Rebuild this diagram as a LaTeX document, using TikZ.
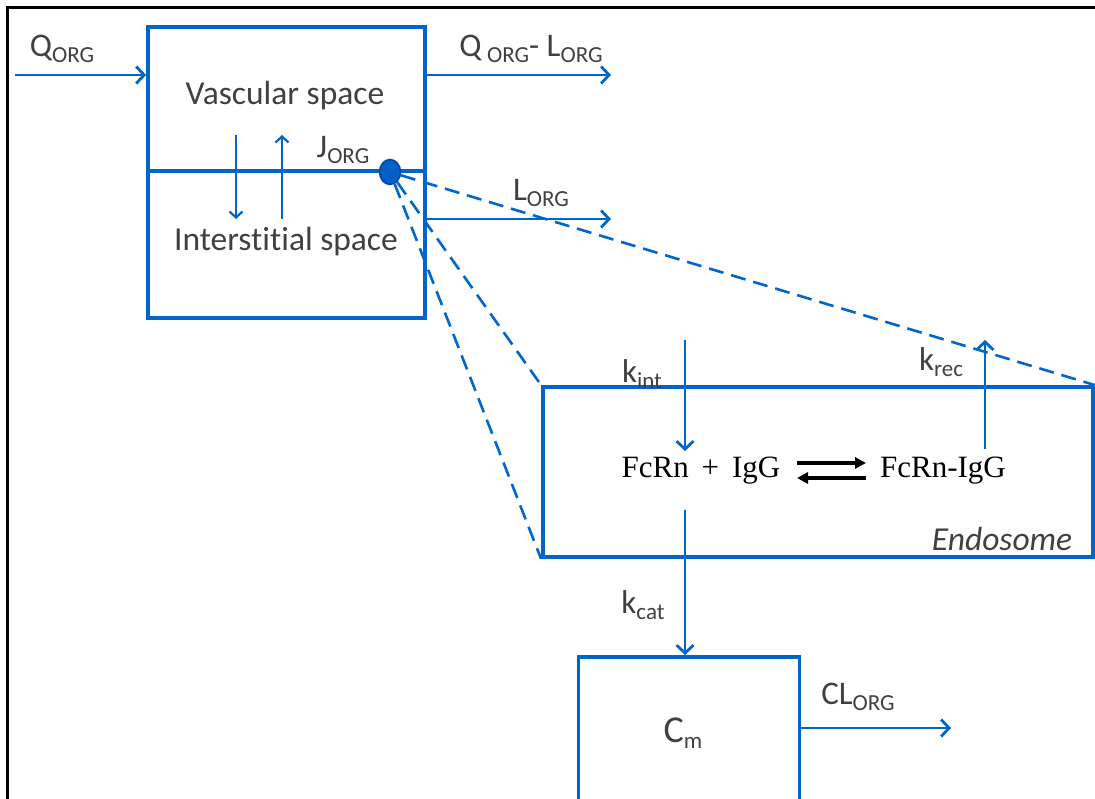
\documentclass[tikz,border=0pt]{standalone}
\usepackage{fontspec}
\setmainfont{Carlito}[Ligatures=NoCommon]
\newfontfamily\rxnfont{Liberation Serif}
\usetikzlibrary{arrows.meta,shapes.geometric}
\definecolor{flowblue}{RGB}{0,102,204}
\definecolor{dotblue}{RGB}{0,96,200}
\definecolor{dotedge}{RGB}{0,70,160}
\definecolor{labelgray}{RGB}{64,64,64}
\newcommand\lowidx[1]{\raisebox{-0.35ex}{\fontsize{23}{23}\selectfont #1}}
\begin{document}
\begin{tikzpicture}[x=1pt,y=-1pt,
  compart/.style={draw=flowblue, line width=3.8pt, inner sep=0pt},
  flow/.style={draw=flowblue, line width=2.8pt,
    -{Straight Barb[length=8pt,width=17pt]}},
  thinflow/.style={draw=flowblue, line width=2.2pt,
    -{Straight Barb[length=6pt,width=13pt]}},
  link/.style={draw=flowblue, line width=2.6pt, dash pattern=on 15pt off 8pt},
  lbl/.style={text=labelgray, inner sep=0pt, font=\fontsize{33}{33}\selectfont},
  space/.style={text=labelgray, inner sep=0pt, font=\fontsize{33.5}{33.5}\selectfont},
  rxn/.style={text=black, inner sep=0pt, font=\rxnfont\fontsize{31}{31}\selectfont},
  eqarrow/.style={draw=black, line width=3.5pt, -{Triangle[length=11pt,width=11pt]}}]
\clip (0,0) rectangle (1095,799);

% outer frame (top and left edges)
\draw[line width=3pt] (7,799) -- (7,8) -- (1095,8);

% organ compartment: vascular over interstitial space
\node[compart, minimum width=277pt, minimum height=291pt] (organ) at (286.5,172.5) {};
\coordinate (divL) at (148,171);
\coordinate (divR) at (425,171);
\draw[flowblue, line width=3.2pt] (divL) -- (divR);
\node[space] (vasc) at (285,96) {Vascular space};
\node[space] (inter) at (286,242) {Interstitial space};

% exchange across the capillary wall
\coordinate (dnA) at (236,135);
\coordinate (dnB) at (236,219);
\coordinate (upA) at (282,219);
\coordinate (upB) at (282,135);
\draw[thinflow] (dnA) -- (dnB);
\draw[thinflow] (upA) -- (upB);
\node[lbl] (jorg) at (343,150) {J\lowidx{ORG}};

% plasma inflow and outflows
\coordinate (qin) at (15,75);
\coordinate (qout) at (611,75);
\coordinate (lout) at (611,219);
\draw[flow] (qin) -- (organ.west |- qin);
\draw[flow] (organ.east |- qout) -- (qout);
\draw[flow] (organ.east |- lout) -- (lout);
\node[lbl] (qorg) at (62,49) {Q\lowidx{ORG}};
\node[lbl] (qlorg) at (531,49) {Q\,\lowidx{ORG}- L\lowidx{ORG}};
\node[lbl] (lorg) at (541,193) {L\lowidx{ORG}};

% endothelial cell marker
\node[ellipse, fill=dotblue, draw=dotedge, line width=1.5pt,
      minimum width=21pt, minimum height=25pt, inner sep=0pt] (cell) at (390,172) {};

% endosome
\node[compart, minimum width=550pt, minimum height=170pt] (endo) at (818,472) {};
\draw[link] (cell) -- (endo.north east);
\draw[link] (cell) -- (endo.north west);
\draw[link] (cell) -- (endo.south west);

\node[rxn] (free) at (701,471) {FcRn\, + \,IgG};
\node[rxn] (bound) at (943,471) {FcRn-IgG};
\coordinate (fwA) at (797,463);
\coordinate (fwB) at (866,463);
\coordinate (bwA) at (866,478);
\coordinate (bwB) at (797,478);
\draw[eqarrow] (fwA) -- (fwB);
\draw[eqarrow] (bwA) -- (bwB);
\node[lbl, font=\fontsize{33.5}{33.5}\selectfont\itshape] (endolbl) at (1002,539) {Endosome};

% internalisation and recycling
\coordinate (intA) at (685,340);
\coordinate (intB) at (685,451);
\coordinate (recA) at (985,449);
\coordinate (recB) at (985,340);
\draw[flow] (intA) -- (intB);
\draw[flow] (recA) -- (recB);
\node[lbl] (kint) at (642,374) {k\lowidx{int}};
\node[lbl] (krec) at (941,362) {k\lowidx{rec}};

% catabolism compartment
\node[compart, minimum width=221pt, minimum height=260pt, anchor=north west] (cm) at (576.5,655) {};
\coordinate (catA) at (685,510);
\draw[flow] (catA) -- (cm.north -| catA);
\node[lbl] (kcat) at (643,605) {k\lowidx{cat}};
\node[lbl, font=\fontsize{38}{38}\selectfont] (cmlbl) at (683,733) {C\lowidx{m}};

\coordinate (clout) at (951,728);
\draw[flow] (cm.east |- clout) -- (clout);
\node[lbl] (clorg) at (858,697) {CL\lowidx{ORG}};
\end{tikzpicture}
\end{document}
